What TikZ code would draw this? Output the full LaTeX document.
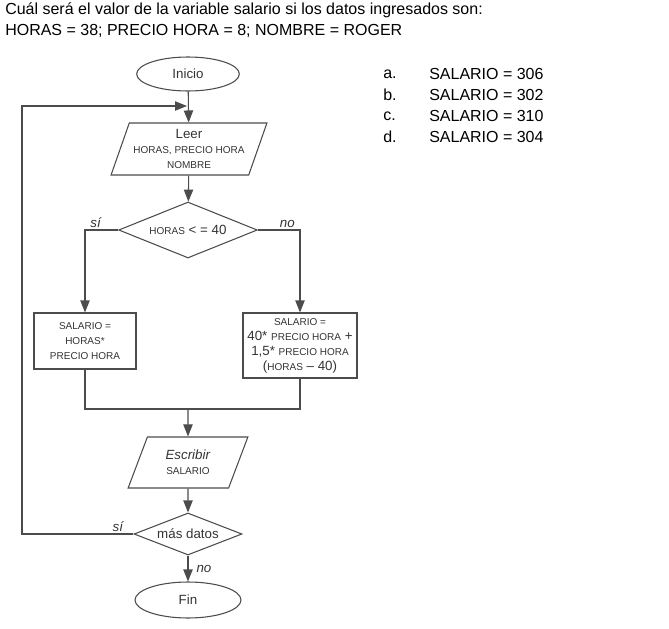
\documentclass[tikz,border=0pt]{standalone}
\usepackage{fontspec}
\setmainfont{Liberation Sans}
\usetikzlibrary{shapes.geometric,arrows.meta}
\newcommand{\chico}[1]{{\fontsize{7.5}{11.25}\selectfont #1}}

\begin{document}
\begin{tikzpicture}[x=0.75pt,y=-0.75pt,
    linea/.style={draw=black!70,line width=0.8pt},
    flecha/.style={linea,-{Triangle[length=9pt,width=7pt]}},
    caja/.style={linea,rectangle,inner sep=0pt,align=center,text=black!80,
      font=\fontsize{10}{11.25}\selectfont},
    terminal/.style={linea,ellipse,inner sep=0pt,minimum width=77pt,
      minimum height=25.5pt,text=black!80,font=\fontsize{10}{12}\selectfont},
    datos/.style={linea,trapezium,trapezium left angle=67,trapezium right angle=113,
      trapezium stretches=true,inner sep=0pt,align=center,text=black!80,
      font=\fontsize{10}{11.5}\selectfont},
    decision/.style={linea,diamond,aspect=2.5,inner sep=0pt,text=black!80,
      font=\fontsize{10}{12}\selectfont},
    rotulo/.style={text=black!80,font=\fontsize{10}{12}\selectfont\itshape,inner sep=1.5pt},
    texto/.style={anchor=west,inner sep=0pt,font=\fontsize{12}{14}\selectfont}]
  \useasboundingbox (0,0) rectangle (669,629);
  % enunciado
  \node[texto] (preg1) at (5,10) {Cuál será el valor de la variable salario si los datos ingresados son:};
  \node[texto] (preg2) at (5,31) {HORAS = 38; PRECIO HORA = 8; NOMBRE = ROGER};
  % opciones
  \foreach \l/\v [count=\i] in {a/306,b/302,c/310,d/304}
    {\node[texto] (op\l) at (383,53+21*\i) {\l.};
     \node[texto] (sal\l) at (429,53+21*\i) {SALARIO = \v};}
  % diagrama
  \node[terminal] (inicio) at (188,74) {Inicio};
  \node[datos,minimum width=117pt,minimum height=39pt] (leer) at (189,149)
    {Leer\\ \chico{HORAS, PRECIO HORA}\\ \chico{NOMBRE}};
  \node[decision,minimum width=104pt,minimum height=42pt] (cond) at (188,230)
    {\chico{HORAS} < = 40};
  \node[caja,minimum width=76.5pt,minimum height=42pt] (sal1) at (85,341)
    {\chico{SALARIO =}\\ \chico{HORAS*}\\ \chico{PRECIO HORA}};
  \node[caja,minimum width=85.5pt,minimum height=48.75pt] (sal2) at (300,345.5)
    {\chico{SALARIO =}\\ 40* \chico{PRECIO HORA} +\\ 1,5* \chico{PRECIO HORA}\\ (\chico{HORAS} -- 40)};
  \coordinate (junta) at (188,409);
  \node[datos,minimum width=90pt,minimum height=38.25pt] (escribir) at (188,462.5)
    {\textit{Escribir}\\ \chico{SALARIO}};
  \node[decision,minimum width=81pt,minimum height=31.5pt] (mas) at (188,534) {más datos};
  \node[terminal,minimum width=79.5pt,minimum height=27pt] (fin) at (188,600) {Fin};
  \coordinate (borde) at (22,106);
  \coordinate (retorno) at (187,106);
  % conectores
  \draw[flecha] (inicio) -- (leer);
  \draw[flecha] (leer) -- (cond);
  \draw[flecha] (cond.west) -| node[rotulo,pos=0.34,above]{sí} (sal1);
  \draw[flecha] (cond.east) -| node[rotulo,pos=0.35,above]{no} (sal2);
  \draw[linea] (sal1.south) |- (junta) -| (sal2.south);
  \draw[flecha] (junta) -- (escribir);
  \draw[flecha] (escribir) -- (mas);
  \draw[flecha] (mas) -- node[rotulo,right,inner sep=6pt]{no} (fin);
  \draw[flecha] (mas.west) -| node[rotulo,pos=0.07,above]{sí} (borde) -- (retorno);
\end{tikzpicture}
\end{document}
